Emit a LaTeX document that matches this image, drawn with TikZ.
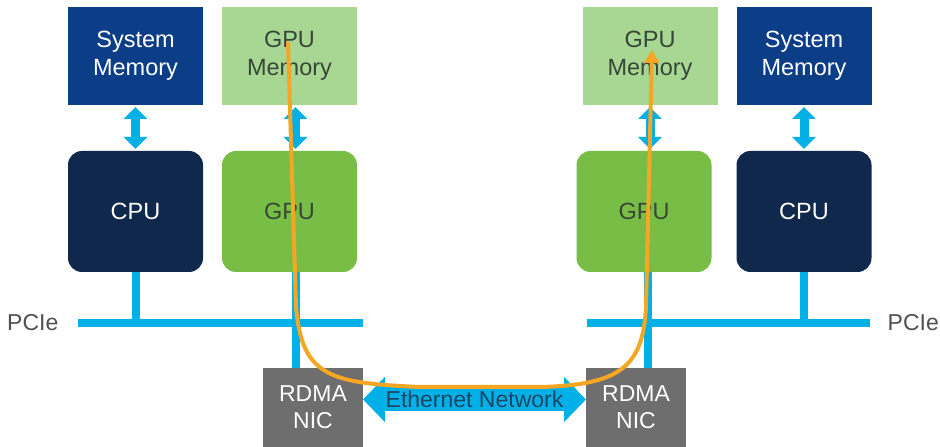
\documentclass[tikz,border=0pt]{standalone}
\usepackage{fontspec}
\setmainfont{Liberation Sans}
\usetikzlibrary{positioning,arrows.meta}
\definecolor{sysblue}{RGB}{12,61,135}
\definecolor{cpunavy}{RGB}{15,40,76}
\definecolor{gpumemgreen}{RGB}{168,215,148}
\definecolor{gpugreen}{RGB}{120,190,70}
\definecolor{nicgray}{RGB}{110,110,110}
\definecolor{buscyan}{RGB}{0,176,230}
\definecolor{pathorange}{RGB}{245,166,35}
\definecolor{gputext}{RGB}{55,70,55}
\definecolor{ethtext}{RGB}{30,70,100}
\definecolor{pcietext}{RGB}{80,80,80}

\tikzset{
  membox/.style={rectangle, minimum width=135pt, minimum height=98pt, align=center, outer sep=0pt, font=\fontsize{23.5}{28}\selectfont},
  chipbox/.style={rectangle, rounded corners=14pt, minimum width=135pt, minimum height=121pt, outer sep=0pt, font=\fontsize{23.5}{28}\selectfont},
  nicbox/.style={rectangle, fill=nicgray, text=white, minimum width=100pt, minimum height=79pt, align=center, outer sep=0pt, font=\fontsize{23}{27}\selectfont},
  pcielabel/.style={text=pcietext, inner sep=0pt, font=\fontsize{23}{27}\selectfont},
  bus/.style={buscyan, line width=8pt},
  memlink/.style={buscyan, line width=9pt, shorten <=2pt, shorten >=2pt, {Triangle[width=23pt,length=12pt]}-{Triangle[width=23pt,length=12pt]}},
  ether/.style={buscyan, line width=24pt, {Triangle[width=44pt,length=22pt]}-{Triangle[width=44pt,length=22pt]}},
  datapath/.style={pathorange, line width=4pt, -{Triangle[width=15pt,length=13pt]}}
}

\begin{document}
\begin{tikzpicture}[x=1pt,y=1pt]
  \fill[white] (0,0) rectangle (940,447);
  \useasboundingbox (0,0) rectangle (940,447);

  % left host
  \node[membox, fill=sysblue, text=white] (lsysmem) at (135.5,391) {System\\Memory};
  \node[membox, fill=gpumemgreen, text=gputext, right=19pt of lsysmem] (lgpumem) {GPU\\Memory};
  \node[chipbox, fill=cpunavy, text=white, below=46pt of lsysmem] (lcpu) {CPU};
  \node[chipbox, fill=gpugreen, text=gputext, below=46pt of lgpumem] (lgpu) {GPU};
  \node[nicbox] (lnic) at (313,39.5) {RDMA\\NIC};

  % right host
  \node[membox, fill=gpumemgreen, text=gputext] (rgpumem) at (650,391) {GPU\\Memory};
  \node[membox, fill=sysblue, text=white, right=19pt of rgpumem] (rsysmem) {System\\Memory};
  \node[chipbox, fill=gpugreen, text=gputext, below=46pt of rgpumem, xshift=-6pt] (rgpu) {GPU};
  \node[chipbox, fill=cpunavy, text=white, below=46pt of rsysmem] (rcpu) {CPU};
  \node[nicbox] (rnic) at (636,39.5) {RDMA\\NIC};

  % PCIe buses
  \node[pcielabel, anchor=west] (lpcie) at (7,124) {PCIe};
  \node[pcielabel, anchor=east] (rpcie) at (939,124) {PCIe};
  \coordinate (lbusw) at (78,124);
  \coordinate (lbuse) at (363,124);
  \coordinate (rbusw) at (587,124);
  \coordinate (rbuse) at (870,124);
  \draw[bus] (lbusw) -- (lbuse);
  \draw[bus] (rbusw) -- (rbuse);
  \draw[bus] (lcpu.south) -- (lcpu.south |- lbusw);
  \draw[bus] (rcpu.south) -- (rcpu.south |- rbusw);
  \draw[bus] ([xshift=6pt]lgpu.south) -- ([xshift=6pt]lgpu.south |- lnic.north);
  \draw[bus] ([xshift=4pt]rgpu.south) -- ([xshift=4pt]rgpu.south |- rnic.north);

  % memory links
  \draw[memlink] (lsysmem) -- (lcpu);
  \draw[memlink] ([xshift=6pt]lgpumem.south) -- ([xshift=6pt]lgpu.north);
  \draw[memlink] (rgpumem) -- (rgpumem |- rgpu.north);
  \draw[memlink] (rsysmem) -- (rcpu);

  % network
  \draw[ether] ([yshift=8pt]lnic.east) -- ([yshift=8pt]rnic.west)
    node[midway, text=ethtext, font=\fontsize{23}{27}\selectfont] (ethlabel) {Ethernet Network};

  % GPUDirect data path
  \coordinate (srcpt) at ([shift={(-1.5pt,14pt)}]lgpumem.center);
  \coordinate (dstpt) at ([shift={(2pt,6pt)}]rgpumem.center);
  \draw[datapath] (srcpt) -- (296,140) .. controls (302,70) and (330,64) .. (420,60)
    -- (540,60) .. controls (620,62) and (643,80) .. (646,140) -- (dstpt);
\end{tikzpicture}
\end{document}
